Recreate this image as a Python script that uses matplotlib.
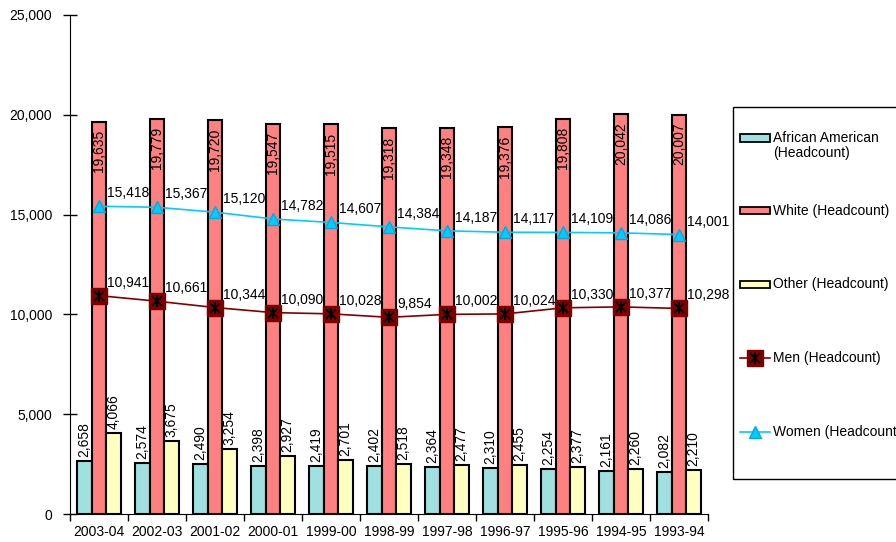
import matplotlib.pyplot as plt
import numpy as np
from matplotlib.patches import Rectangle
from matplotlib.lines import Line2D

plt.rcParams['font.family'] = ['Liberation Sans', 'DejaVu Sans']

# data
years = ['2003-04', '2002-03', '2001-02', '2000-01', '1999-00', '1998-99',
         '1997-98', '1996-97', '1995-96', '1994-95', '1993-94']
african_american = [2658, 2574, 2490, 2398, 2419, 2402, 2364, 2310, 2254, 2161, 2082]
white = [19635, 19779, 19720, 19547, 19515, 19318, 19348, 19376, 19808, 20042, 20007]
other = [4066, 3675, 3254, 2927, 2701, 2518, 2477, 2455, 2377, 2260, 2210]
men = [10941, 10661, 10344, 10090, 10028, 9854, 10002, 10024, 10330, 10377, 10298]
women = [15418, 15367, 15120, 14782, 14607, 14384, 14187, 14117, 14109, 14086, 14001]

W, H = 896, 542
fs = 10
x = np.arange(len(years))
bw = 0.25

c_aa, c_wh, c_ot = '#A0E0E0', '#FF8080', '#FFFFC0'
c_men, c_women = '#800000', '#00CCFF'

fig = plt.figure(figsize=(W / 100, H / 100), dpi=100)
ax = fig.add_axes([70 / W, 1 - 514 / H, 638 / W, 499 / H])

ax.bar(x - bw, african_american, bw, color=c_aa, edgecolor='black', linewidth=1.5)
ax.bar(x, white, bw, color=c_wh, edgecolor='black', linewidth=1.5)
ax.bar(x + bw, other, bw, color=c_ot, edgecolor='black', linewidth=1.5)

# bar value labels
for xs, vals in [(x - bw, african_american), (x + bw, other)]:
    for xi, v in zip(xs, vals):
        ax.annotate(f'{v:,}', (xi, v), xytext=(0, 4), textcoords='offset pixels',
                    rotation=90, ha='center', va='bottom', fontsize=fs)
for xi, v in zip(x, white):
    ax.annotate(f'{v:,}', (xi, v), xytext=(0, -8), textcoords='offset pixels',
                rotation=90, ha='center', va='top', fontsize=fs)

# lines
ax.plot(x, men, color=c_men, lw=1.2, marker='s', ms=11, mfc=c_men, mec=c_men, zorder=4)
ax.plot(x, men, ls='none', marker='x', ms=7, mec='black', mew=1.4, zorder=5)
ax.plot(x, men, ls='none', marker='|', ms=8, mec='black', mew=1.4, zorder=5)
ax.plot(x, women, color=c_women, lw=1.2, marker='^', ms=9, mfc=c_women, mec='#00AADD', zorder=4)

for xi, v in zip(x, men):
    ax.annotate(f'{v:,}', (xi, v), xytext=(8, 6), textcoords='offset pixels',
                ha='left', va='bottom', fontsize=fs)
for xi, v in zip(x, women):
    ax.annotate(f'{v:,}', (xi, v), xytext=(8, 6), textcoords='offset pixels',
                ha='left', va='bottom', fontsize=fs)

ax.set_xlim(-0.5, len(years) - 0.5)
ax.set_ylim(0, 25000)
ax.set_yticks(range(0, 25001, 5000))
ax.set_yticklabels([f'{t:,}' for t in range(0, 25001, 5000)], fontsize=fs)
ax.set_xticks(x)
ax.set_xticklabels(years, fontsize=fs)
ax.set_xticks(np.arange(-0.5, len(years), 1), minor=True)
ax.tick_params(axis='x', which='major', length=0, pad=8)
ax.tick_params(axis='x', which='minor', length=5, direction='out', width=1)
ax.tick_params(axis='y', direction='inout', length=10, width=1, pad=8)
ax.spines['top'].set_visible(False)
ax.spines['right'].set_visible(False)

# legend box, drawn by hand so the rows sit where they do in the original
fig.add_artist(Rectangle((733 / W, 1 - 479 / H), 200 / W, 372 / H, transform=fig.transFigure,
                         facecolor='white', edgecolor='black', linewidth=1.0))
leg_rows = [138, 211, 284, 358, 432]
leg_labels = ['African American\n(Headcount)', 'White (Headcount)', 'Other (Headcount)',
              'Men (Headcount)', 'Women (Headcount)']
for i, (yp, lab) in enumerate(zip(leg_rows, leg_labels)):
    yf = 1 - yp / H
    if i < 3:
        col = [c_aa, c_wh, c_ot][i]
        fig.add_artist(Rectangle((740 / W, yf - 3.5 / H), 30 / W, 7 / H, transform=fig.transFigure,
                                 facecolor=col, edgecolor='black', linewidth=1.3))
    elif i == 3:
        fig.add_artist(Line2D([740 / W, 770 / W], [yf, yf], color=c_men, lw=1.2,
                              marker='s', ms=11, mfc=c_men, mec=c_men, markevery=[], transform=fig.transFigure))
        fig.add_artist(Line2D([755 / W], [yf], ls='none', marker='s', ms=11, mfc=c_men, mec=c_men,
                              transform=fig.transFigure))
        fig.add_artist(Line2D([755 / W], [yf], ls='none', marker='x', ms=7, mec='black', mew=1.4,
                              transform=fig.transFigure))
        fig.add_artist(Line2D([755 / W], [yf], ls='none', marker='|', ms=8, mec='black', mew=1.4,
                              transform=fig.transFigure))
    else:
        fig.add_artist(Line2D([740 / W, 770 / W], [yf, yf], color=c_women, lw=1.2,
                              transform=fig.transFigure))
        fig.add_artist(Line2D([755 / W], [yf], ls='none', marker='^', ms=9, mfc=c_women, mec='#00AADD',
                              transform=fig.transFigure))
    fig.text(773 / W, yf + 7 / H, lab, fontsize=fs, ha='left', va='top', linespacing=1.1)

fig.savefig('out.png', dpi=100)
